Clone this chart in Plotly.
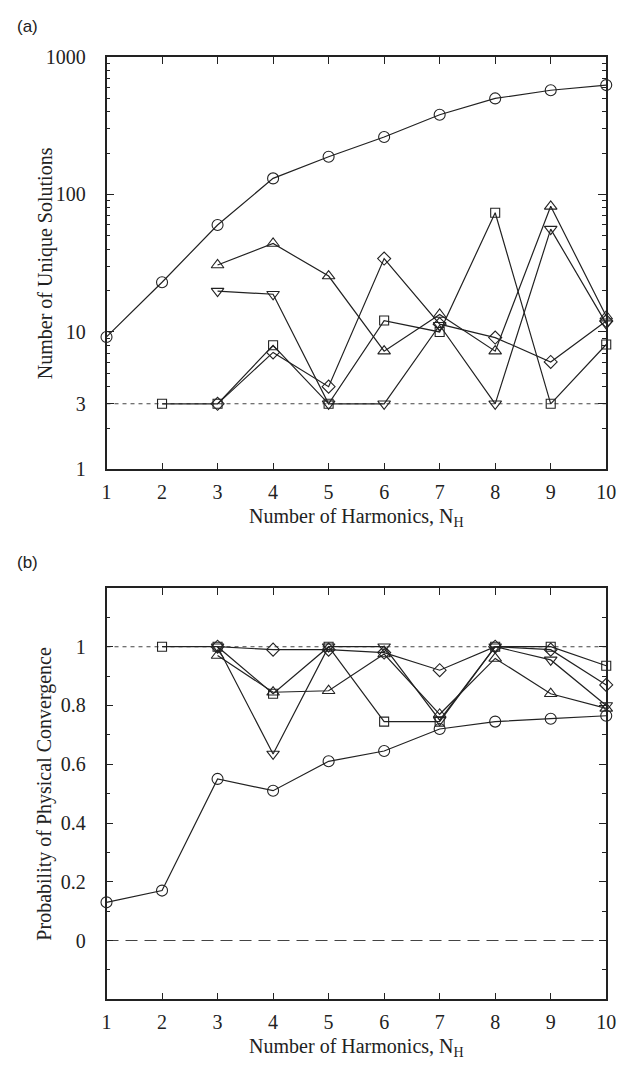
import plotly.graph_objects as go

# Number of harmonics
harmonics = list(range(1, 11))

# Panel (a): number of unique solutions per method
sol_circle = [9.2, 23, 60, 131, 188, 262, 380, 500, 573, 625]
sol_square_x = [2, 3, 4, 5, 6, 7, 8, 9, 10]
sol_square = [3, 3, 8.0, 3, 12.1, 10, 73.6, 3, 8.1]
sol_diamond_x = [3, 4, 5, 6, 7, 8, 9, 10]
sol_diamond = [3, 7.1, 4, 34.2, 11.4, 9.1, 6.05, 12]
sol_tri_up_x = [3, 4, 5, 6, 7, 8, 9, 10]
sol_tri_up = [30.7, 44, 25.5, 7.25, 13.4, 7.25, 82, 13]
sol_tri_down_x = [3, 4, 5, 6, 7, 8, 9, 10]
sol_tri_down = [19.8, 18.8, 3, 3, 11.2, 3, 56, 11.5]

# Panel (b): probability of physical convergence per method
prob_circle = [0.13, 0.17, 0.55, 0.51, 0.61, 0.645, 0.72, 0.745, 0.755, 0.765]
prob_square_x = [2, 3, 4, 5, 6, 7, 8, 9, 10]
prob_square = [1.0, 1.0, 0.84, 1.0, 0.745, 0.745, 1.0, 1.0, 0.935]
prob_diamond_x = [3, 4, 5, 6, 7, 8, 9, 10]
prob_diamond = [1.0, 0.99, 0.99, 0.98, 0.92, 1.0, 0.99, 0.87]
prob_tri_up_x = [3, 4, 5, 6, 7, 8, 9, 10]
prob_tri_up = [0.97, 0.845, 0.85, 0.975, 0.77, 0.96, 0.84, 0.79]
prob_tri_down_x = [3, 4, 5, 6, 7, 8, 9, 10]
prob_tri_down = [1.0, 0.635, 1.0, 1.0, 0.75, 1.0, 0.955, 0.80]

# Reference levels
ref_solutions = 3
ref_prob_top = 1.0
ref_prob_zero = 0.0

INK = "#222222"
SERIF = "Liberation Serif"
SANS = "Liberation Sans"

fig = go.Figure()

def add_series(x, y, symbol, size, xaxis, yaxis):
    fig.add_trace(go.Scatter(
        x=x, y=y, mode="lines+markers",
        line=dict(color=INK, width=1.2),
        marker=dict(symbol=symbol, size=size, color=INK,
                    line=dict(color=INK, width=1.1)),
        cliponaxis=False, showlegend=False,
        xaxis=xaxis, yaxis=yaxis,
    ))

def add_ref(yval, dash, xaxis, yaxis, width=1.1):
    fig.add_trace(go.Scatter(
        x=[harmonics[0], harmonics[-1]], y=[yval, yval], mode="lines",
        line=dict(color="#444444", width=width, dash=dash),
        showlegend=False, hoverinfo="skip", xaxis=xaxis, yaxis=yaxis,
    ))

# Panel (a)
add_ref(ref_solutions, "4px,4px", "x", "y")
add_series(harmonics, sol_circle, "circle-open", 11, "x", "y")
add_series(sol_square_x, sol_square, "square-open", 9, "x", "y")
add_series(sol_diamond_x, sol_diamond, "diamond-open", 10, "x", "y")
add_series(sol_tri_up_x, sol_tri_up, "triangle-up-open", 11, "x", "y")
add_series(sol_tri_down_x, sol_tri_down, "triangle-down-open", 11, "x", "y")

# Panel (b)
add_ref(ref_prob_top, "4px,4px", "x2", "y2")
add_ref(ref_prob_zero, "12px,7px", "x2", "y2")
add_series(harmonics, prob_circle, "circle-open", 11, "x2", "y2")
add_series(prob_square_x, prob_square, "square-open", 9, "x2", "y2")
add_series(prob_diamond_x, prob_diamond, "diamond-open", 10, "x2", "y2")
add_series(prob_tri_up_x, prob_tri_up, "triangle-up-open", 11, "x2", "y2")
add_series(prob_tri_down_x, prob_tri_down, "triangle-down-open", 11, "x2", "y2")

W, H = 626, 1073
x_dom = [104 / W, 616 / W]
top_dom = [1 - 468 / H, 1 - 47 / H]
bot_dom = [1 - 1009 / H, 1 - 589 / H]

tick_font = dict(family=SERIF, size=20, color=INK)
title_font = dict(family=SERIF, size=20, color=INK)

def x_axis(domain, anchor):
    return dict(
        domain=domain, anchor=anchor, range=[1, 10],
        tickvals=harmonics, ticktext=[str(v) for v in harmonics],
        ticks="inside", ticklen=7, tickwidth=1.1, tickcolor=INK,
        showline=True, linecolor=INK, linewidth=1.6, mirror="allticks",
        showgrid=False, zeroline=False, tickfont=tick_font,
        ticklabelstandoff=4,
        title=dict(text="Number of Harmonics, N<sub>H</sub>", font=title_font, standoff=7),
    )

sol_major = [1, 3, 10, 100, 1000]
sol_minor = [2, 4, 5, 6, 7, 8, 9, 20, 30, 40, 50, 60, 70, 80, 90,
             200, 300, 400, 500, 600, 700, 800, 900]
prob_major = [0, 0.2, 0.4, 0.6, 0.8, 1.0]
prob_minor = [-0.1, 0.1, 0.3, 0.5, 0.7, 0.9, 1.1]

def y_title(text, y_top, y_bot):
    return dict(text=text, x=41 / W, y=1 - (y_top + y_bot) / 2 / H,
                xref="paper", yref="paper", textangle=-90,
                xanchor="center", yanchor="middle", showarrow=False,
                font=title_font)

fig.update_layout(
    width=W, height=H, margin=dict(l=0, r=0, t=0, b=0),
    paper_bgcolor="white", plot_bgcolor="white",
    xaxis=x_axis(x_dom, "y"),
    xaxis2=x_axis(x_dom, "y2"),
    yaxis=dict(
        domain=top_dom, anchor="x", type="log", range=[0, 3],
        tickvals=sol_major, ticktext=[str(v) for v in sol_major],
        ticks="inside", ticklen=8, tickwidth=1.1, tickcolor=INK,
        minor=dict(tickvals=sol_minor, ticks="inside", ticklen=4,
                   tickwidth=1.0, tickcolor=INK, showgrid=False),
        showline=True, linecolor=INK, linewidth=1.6, mirror="allticks",
        showgrid=False, zeroline=False, tickfont=tick_font,
        ticklabelstandoff=15,
    ),
    yaxis2=dict(
        domain=bot_dom, anchor="x2", range=[-0.2, 1.2],
        tickvals=prob_major, ticktext=["0", "0.2", "0.4", "0.6", "0.8", "1"],
        ticks="inside", ticklen=7, tickwidth=1.1, tickcolor=INK,
        minor=dict(tickvals=prob_minor, ticks="inside", ticklen=4,
                   tickwidth=1.0, tickcolor=INK, showgrid=False),
        showline=True, linecolor=INK, linewidth=1.6, mirror="allticks",
        showgrid=False, zeroline=False, tickfont=tick_font,
        ticklabelstandoff=15,
    ),
    annotations=[
        y_title("Number of Unique Solutions", 47, 468),
        y_title("Probability of Physical Convergence", 589, 1009),
        dict(text="(a)", x=10 / W, y=1 - 16 / H, xref="paper", yref="paper",
             xanchor="left", yanchor="middle", showarrow=False,
             font=dict(family=SANS, size=17, color=INK)),
        dict(text="(b)", x=10 / W, y=1 - 563 / H, xref="paper", yref="paper",
             xanchor="left", yanchor="middle", showarrow=False,
             font=dict(family=SANS, size=17, color=INK)),
    ],
)

fig.write_html("out.html")
